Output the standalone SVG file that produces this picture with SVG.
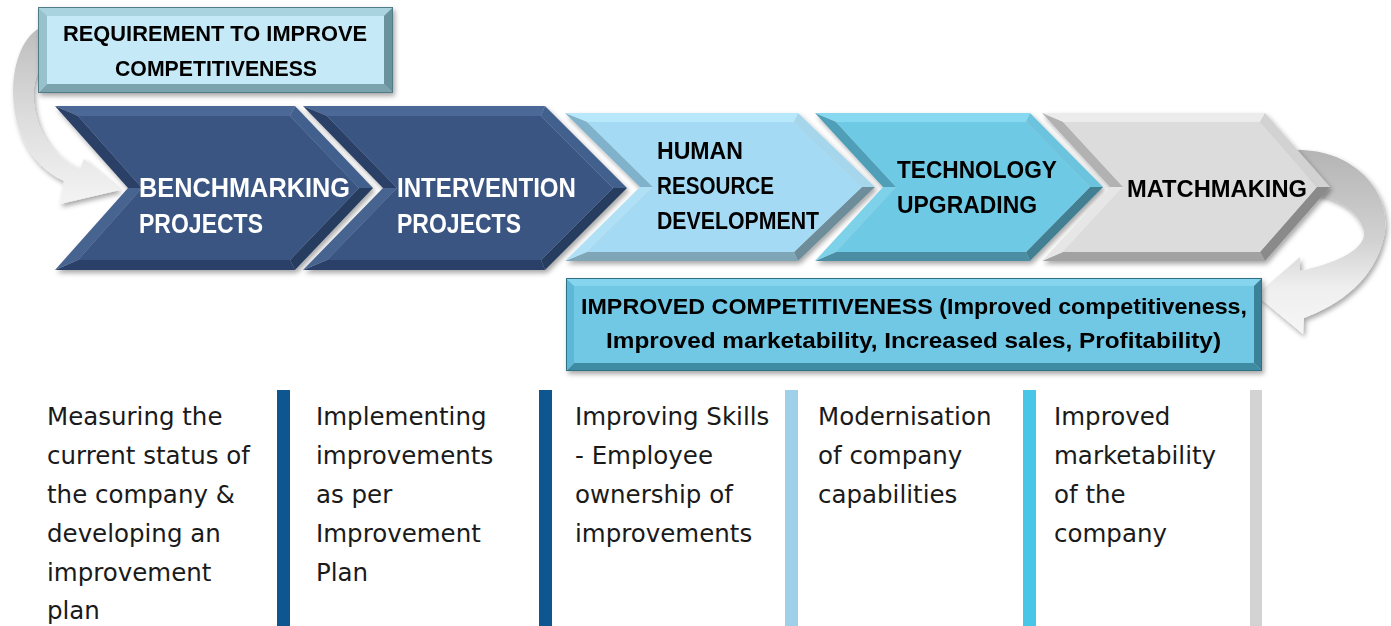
<svg xmlns="http://www.w3.org/2000/svg" width="1391" height="626" viewBox="0 0 1391 626">
<style>
.lbl{font-family:"Liberation Sans",Arial,sans-serif;font-weight:bold;}
.wt{fill:#ffffff;font-size:27px;}
.bk{fill:#000000;font-size:24px;}
.bx{fill:#000000;font-size:22px;}
.body{font-family:"DejaVu Sans","Noto Sans",sans-serif;font-size:24.5px;fill:#1a1a1a;}
.navy .t{fill:#4c6896}.navy .ur{fill:#43608d}.navy .lr{fill:#283c60}.navy .b{fill:#2b4067}.navy .ll{fill:#47638f}.navy .ul{fill:#2a3f66}.navy .f{fill:#3a5582}
.lb .t{fill:#b8e8fc}.lb .ur{fill:#a5d6ec}.lb .lr{fill:#6e8d9b}.lb .b{fill:#7ea6b6}.lb .ll{fill:#b0e0f5}.lb .ul{fill:#80b3cb}.lb .f{fill:#a4daf3}
.cy .t{fill:#86d9f0}.cy .ur{fill:#6cc3dd}.cy .lr{fill:#427f92}.cy .b{fill:#4b8ea3}.cy .ll{fill:#7dd2ea}.cy .ul{fill:#4f9fb8}.cy .f{fill:#6ec9e5}
.gr .t{fill:#ececec}.gr .ur{fill:#d2d2d2}.gr .lr{fill:#8a8a8a}.gr .b{fill:#a2a2a2}.gr .ll{fill:#e6e6e6}.gr .ul{fill:#b2b2b2}.gr .f{fill:#dcdcdc}
.node{filter:url(#sh);}
.bar{stroke:none;}
</style>
<defs>
<filter id="sh" x="-10%" y="-10%" width="130%" height="140%">
<feDropShadow dx="2" dy="3" stdDeviation="2.5" flood-color="#000" flood-opacity="0.35"/>
</filter>
<linearGradient id="gArrL" x1="0" y1="0" x2="0" y2="1">
<stop offset="0" stop-color="#bdbdbd"/><stop offset="0.5" stop-color="#dcdcdc"/><stop offset="1" stop-color="#f4f4f4"/>
</linearGradient>
<linearGradient id="gArrR" x1="0" y1="0" x2="0" y2="1">
<stop offset="0" stop-color="#b4b4b4"/><stop offset="0.5" stop-color="#d2d2d2"/><stop offset="0.75" stop-color="#efefef"/><stop offset="1" stop-color="#f6f6f6"/>
</linearGradient>
</defs>
<rect x="0" y="0" width="1391" height="626" fill="#ffffff"/>

<g id="connectors" filter="url(#sh)">
<path id="arrow-left" d="M 42 27 C 4 42, -4 150, 64 181 L 60 204 L 120 190 L 84 159 L 80 169 C 34 150, 24 88, 42 66 Z" fill="url(#gArrL)"/>
<path id="arrow-right" d="M 1295 150 C 1355 148, 1396 195, 1383 240 C 1374 278, 1342 304, 1304 318 L 1303 334 L 1256 295 L 1300 257 L 1300 271 C 1342 262, 1370 246, 1363 228 C 1356 210, 1340 200, 1318 195 Z" fill="url(#gArrR)"/>
</g>

<g id="node-requirement" class="node">
<polygon points="38,7 393,7 384,16 47,16" fill="#a9d3de"/>
<polygon points="393,7 393,93 384,84 384,16" fill="#6a929d"/>
<polygon points="393,93 38,93 47,84 384,84" fill="#7aa3ae"/>
<polygon points="38,93 38,7 47,16 47,84" fill="#97c1cd"/>
<rect x="47" y="16" width="337" height="68" fill="#c5e9f6"/>
<rect x="38.5" y="7.5" width="354" height="85" fill="none" stroke="#4f7c88" stroke-width="1"/>
<text class="lbl bx" x="63" y="41" textLength="304" lengthAdjust="spacingAndGlyphs">REQUIREMENT TO IMPROVE</text>
<text class="lbl bx" x="115" y="76" textLength="202" lengthAdjust="spacingAndGlyphs">COMPETITIVENESS</text>
</g>

<g id="node-benchmarking" class="node navy">
<polygon class="t" points="55,106 295,106 290,116 78,116"/>
<polygon class="ur" points="295,106 373,188 359,188 290,116"/>
<polygon class="lr" points="373,188 295,270 290,260 359,188"/>
<polygon class="b" points="295,270 55,270 78,260 290,260"/>
<polygon class="ll" points="55,270 128,188 142,188 78,260"/>
<polygon class="ul" points="128,188 55,106 78,116 142,188"/>
<polygon class="f" points="78,116 290,116 359,188 290,260 78,260 142,188"/>
<text class="lbl wt" x="139" y="197" textLength="211" lengthAdjust="spacingAndGlyphs">BENCHMARKING</text>
<text class="lbl wt" x="139" y="233" textLength="124" lengthAdjust="spacingAndGlyphs">PROJECTS</text>
</g>

<g id="node-intervention" class="node navy">
<polygon class="t" points="303,106 545,106 541,116 327,116"/>
<polygon class="ur" points="545,106 627,188 613,188 541,116"/>
<polygon class="lr" points="627,188 545,270 541,260 613,188"/>
<polygon class="b" points="545,270 303,270 327,260 541,260"/>
<polygon class="ll" points="303,270 383,188 397,188 327,260"/>
<polygon class="ul" points="383,188 303,106 327,116 397,188"/>
<polygon class="f" points="327,116 541,116 613,188 541,260 327,260 397,188"/>
<text class="lbl wt" x="397" y="197" textLength="179" lengthAdjust="spacingAndGlyphs">INTERVENTION</text>
<text class="lbl wt" x="397" y="233" textLength="124" lengthAdjust="spacingAndGlyphs">PROJECTS</text>
</g>

<g id="node-hrd" class="node lb">
<polygon class="t" points="565,113 798,113 794,122 587,122"/>
<polygon class="ur" points="798,113 875,187 862,187 794,122"/>
<polygon class="lr" points="875,187 798,261 794,252 862,187"/>
<polygon class="b" points="798,261 565,261 587,252 794,252"/>
<polygon class="ll" points="565,261 640,187 653,187 587,252"/>
<polygon class="ul" points="640,187 565,113 587,122 653,187"/>
<polygon class="f" points="587,122 794,122 862,187 794,252 587,252 653,187"/>
<text class="lbl bk" x="657" y="159" textLength="86" lengthAdjust="spacingAndGlyphs">HUMAN</text>
<text class="lbl bk" x="657" y="194" textLength="117" lengthAdjust="spacingAndGlyphs">RESOURCE</text>
<text class="lbl bk" x="657" y="229" textLength="162" lengthAdjust="spacingAndGlyphs">DEVELOPMENT</text>
</g>

<g id="node-technology" class="node cy">
<polygon class="t" points="815,113 1030,113 1026,122 836,122"/>
<polygon class="ur" points="1030,113 1103,187 1090,187 1026,122"/>
<polygon class="lr" points="1103,187 1030,261 1026,252 1090,187"/>
<polygon class="b" points="1030,261 815,261 836,252 1026,252"/>
<polygon class="ll" points="815,261 883,187 896,187 836,252"/>
<polygon class="ul" points="883,187 815,113 836,122 896,187"/>
<polygon class="f" points="836,122 1026,122 1090,187 1026,252 836,252 896,187"/>
<text class="lbl bk" x="897" y="178" textLength="160" lengthAdjust="spacingAndGlyphs">TECHNOLOGY</text>
<text class="lbl bk" x="897" y="213" textLength="140" lengthAdjust="spacingAndGlyphs">UPGRADING</text>
</g>

<g id="node-matchmaking" class="node gr">
<polygon class="t" points="1042,113 1265,113 1260,122 1063,122"/>
<polygon class="ur" points="1265,113 1330,187 1317,187 1260,122"/>
<polygon class="lr" points="1330,187 1265,261 1260,252 1317,187"/>
<polygon class="b" points="1265,261 1042,261 1063,252 1260,252"/>
<polygon class="ll" points="1042,261 1110,187 1123,187 1063,252"/>
<polygon class="ul" points="1110,187 1042,113 1063,122 1123,187"/>
<polygon class="f" points="1063,122 1260,122 1317,187 1260,252 1063,252 1123,187"/>
<text class="lbl bk" x="1127" y="197" textLength="180" lengthAdjust="spacingAndGlyphs">MATCHMAKING</text>
</g>

<g id="node-improved" class="node">
<polygon points="566,278 1262,278 1254,286 574,286" fill="#86d5ee"/>
<polygon points="1262,278 1262,371 1254,363 1254,286" fill="#3b8299"/>
<polygon points="1262,371 566,371 574,363 1254,363" fill="#3e8ca4"/>
<polygon points="566,371 566,278 574,286 574,363" fill="#5bb8d6"/>
<rect x="574" y="286" width="680" height="77" fill="#6fc8e5"/>
<rect x="566.5" y="278.5" width="695" height="92" fill="none" stroke="#2e6f84" stroke-width="1"/>
<text class="lbl bx" x="581" y="314" textLength="666" lengthAdjust="spacingAndGlyphs">IMPROVED COMPETITIVENESS (Improved competitiveness,</text>
<text class="lbl bx" x="606" y="348" textLength="615" lengthAdjust="spacingAndGlyphs">Improved marketability, Increased sales, Profitability)</text>
</g>

<g id="col-1">
<text class="body"><tspan x="47" y="425">Measuring the</tspan><tspan x="47" y="464">current status of</tspan><tspan x="47" y="503">the company &amp;</tspan><tspan x="47" y="542">developing an</tspan><tspan x="47" y="581">improvement</tspan><tspan x="47" y="619">plan</tspan></text>
</g>
<g id="col-2">
<rect class="bar" x="277" y="390" width="13" height="236" fill="#0e568f"/>
<text class="body"><tspan x="316" y="425">Implementing</tspan><tspan x="316" y="464">improvements</tspan><tspan x="316" y="503">as per</tspan><tspan x="316" y="542">Improvement</tspan><tspan x="316" y="581">Plan</tspan></text>
</g>
<g id="col-3">
<rect class="bar" x="539" y="390" width="13" height="236" fill="#0e568f"/>
<text class="body"><tspan x="575" y="425">Improving Skills</tspan><tspan x="575" y="464">- Employee</tspan><tspan x="575" y="503">ownership of</tspan><tspan x="575" y="542">improvements</tspan></text>
</g>
<g id="col-4">
<rect class="bar" x="785" y="390" width="13" height="236" fill="#9ed0ea"/>
<text class="body"><tspan x="818" y="425">Modernisation</tspan><tspan x="818" y="464">of company</tspan><tspan x="818" y="503">capabilities</tspan></text>
</g>
<g id="col-5">
<rect class="bar" x="1023" y="390" width="13" height="236" fill="#48c6e8"/>
<text class="body"><tspan x="1054" y="425">Improved</tspan><tspan x="1054" y="464">marketability</tspan><tspan x="1054" y="503">of the</tspan><tspan x="1054" y="542">company</tspan></text>
<rect class="bar" x="1250" y="390" width="12" height="236" fill="#d3d3d3"/>
</g>
</svg>
